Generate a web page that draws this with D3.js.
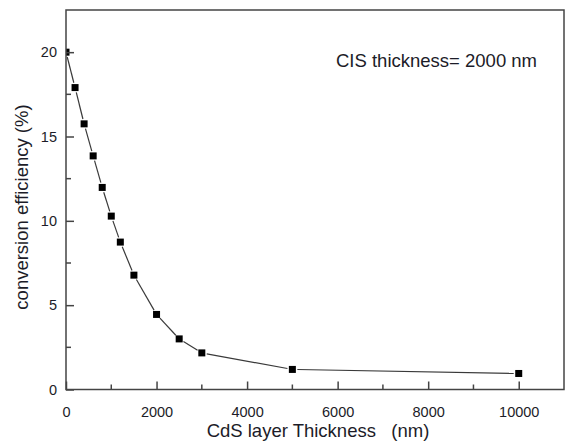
<!DOCTYPE html>
<html>
<head>
<meta charset="utf-8">
<script src="https://cdn.jsdelivr.net/npm/d3@7"></script>
<style>
  body { margin: 0; background: #fff; }
  svg { display: block; font-family: "Liberation Sans", Arial, sans-serif; }
</style>
</head>
<body>
<div id="chart"></div>
<script>
let width = 565
let height = 442

// CdS layer thickness (nm) vs conversion efficiency (%)
let thickness = [0, 200, 400, 600, 800, 1000, 1200, 1500, 2000, 2500, 3000, 5000, 10000]
let efficiency = [20.0, 17.9, 15.75, 13.85, 11.98, 10.28, 8.74, 6.78, 4.45, 3.0, 2.17, 1.19, 0.95]

let xTicks = [0, 2000, 4000, 6000, 8000, 10000]
let xMinor = [1000, 3000, 5000, 7000, 9000]
let yTicks = [0, 5, 10, 15, 20]
let yMinor = [2.5, 7.5, 12.5, 17.5]

let margin = {left: 66, top: 10, right: 1, bottom: 52.5}
let axisColor = "#444"
let textColor = "#1c1c28"

let x = d3.scaleLinear().domain([0, 11000]).range([margin.left, width - margin.right])
let y = d3.scaleLinear().domain([0, 22.5]).range([height - margin.bottom, margin.top])

const svg = d3.select("#chart").append("svg")
    .attr("width", width)
    .attr("height", height)

svg.append("clipPath").attr("id", "plot")
    .append("rect")
    .attr("x", margin.left).attr("y", margin.top)
    .attr("width", x.range()[1] - margin.left)
    .attr("height", y.range()[0] - margin.top)

let pts = thickness.map((t, i) => [x(t), y(efficiency[i])])

// line segments, with a small gap next to each marker
let gap = 5
let segs = []
for (let i = 0; i < pts.length - 1; i++) {
    let [x0, y0] = pts[i], [x1, y1] = pts[i + 1]
    let len = Math.hypot(x1 - x0, y1 - y0)
    if (len <= 2 * gap) continue
    let ux = (x1 - x0) / len, uy = (y1 - y0) / len
    segs.push([x0 + ux * gap, y0 + uy * gap, x1 - ux * gap, y1 - uy * gap])
}

const plot = svg.append("g").attr("clip-path", "url(#plot)")

plot.selectAll("line.seg")
    .data(segs)
    .join("line")
    .attr("class", "seg")
    .attr("x1", d => d[0]).attr("y1", d => d[1])
    .attr("x2", d => d[2]).attr("y2", d => d[3])
    .attr("stroke", "#3a3a3a")
    .attr("stroke-width", 1.2)

let ms = 7
plot.selectAll("rect.pt")
    .data(pts)
    .join("rect")
    .attr("class", "pt")
    .attr("x", d => d[0] - ms / 2)
    .attr("y", d => d[1] - ms / 2)
    .attr("width", ms)
    .attr("height", ms)
    .attr("fill", "#000")

// frame
svg.append("rect")
    .attr("x", margin.left).attr("y", margin.top)
    .attr("width", x.range()[1] - margin.left)
    .attr("height", y.range()[0] - margin.top)
    .attr("fill", "none")
    .attr("stroke", axisColor)
    .attr("stroke-width", 1.5)

// x axis (ticks inward)
const xAxis = svg.append("g")
    .attr("transform", `translate(0,${y(0)})`)
    .call(d3.axisBottom(x).tickValues(xTicks).tickSize(-8).tickPadding(17).tickFormat(d3.format("d")))
xAxis.select(".domain").remove()
xAxis.selectAll(".tick line").attr("stroke", axisColor).attr("stroke-width", 1.5)
xAxis.selectAll(".tick text").attr("font-size", 14.5).attr("fill", textColor)
    .attr("font-family", "Liberation Sans, Arial, sans-serif")

svg.append("g").selectAll("line")
    .data(xMinor)
    .join("line")
    .attr("x1", d => x(d)).attr("x2", d => x(d))
    .attr("y1", y(0)).attr("y2", y(0) - 5)
    .attr("stroke", axisColor).attr("stroke-width", 1.5)

// y axis
const yAxis = svg.append("g")
    .attr("transform", `translate(${margin.left},0)`)
    .call(d3.axisLeft(y).tickValues(yTicks).tickSize(-8).tickPadding(9).tickFormat(d3.format("d")))
yAxis.select(".domain").remove()
yAxis.selectAll(".tick line").attr("stroke", axisColor).attr("stroke-width", 1.5)
yAxis.selectAll(".tick text").attr("font-size", 14.5).attr("fill", textColor)
    .attr("font-family", "Liberation Sans, Arial, sans-serif")

svg.append("g").selectAll("line")
    .data(yMinor)
    .join("line")
    .attr("y1", d => y(d)).attr("y2", d => y(d))
    .attr("x1", margin.left).attr("x2", margin.left + 5)
    .attr("stroke", axisColor).attr("stroke-width", 1.5)

// labels
svg.append("text")
    .attr("x", 318)
    .attr("y", 437)
    .attr("text-anchor", "middle")
    .attr("font-size", 18.5)
    .attr("fill", textColor)
    .style("white-space", "pre")
    .text("CdS layer Thickness   (nm)")

svg.append("text")
    .attr("transform", `translate(28,207) rotate(-90)`)
    .attr("text-anchor", "middle")
    .attr("font-size", 18.5)
    .attr("fill", textColor)
    .text("conversion efficiency (%)")

svg.append("text")
    .attr("x", 336)
    .attr("y", 67)
    .attr("font-size", 18.5)
    .attr("fill", textColor)
    .text("CIS thickness= 2000 nm")
</script>
</body>
</html>
